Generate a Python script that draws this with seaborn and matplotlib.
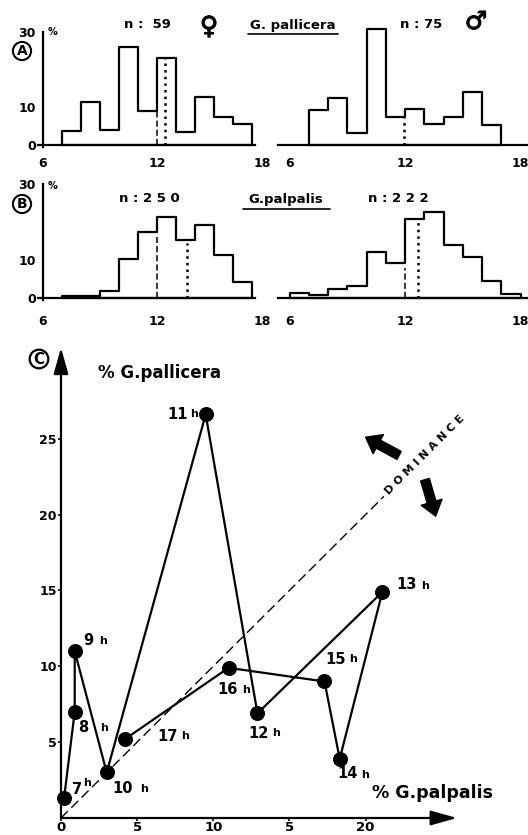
import numpy as np
import pandas as pd
import seaborn as sns
import matplotlib
matplotlib.use("Agg")
import matplotlib.pyplot as plt
import matplotlib.patheffects as pe
from matplotlib.lines import Line2D
from matplotlib.ticker import FixedLocator

sns.set_style("white")
plt.rcParams['font.family'] = ['DejaVu Sans']
plt.rcParams['font.weight'] = 'bold'
for key in ['text.color', 'axes.labelcolor', 'xtick.color', 'ytick.color', 'axes.edgecolor']:
    plt.rcParams[key] = 'black'

W, H = 528, 835

# ---- wing-length frequency distributions (% per class) ----
edges_7_17 = [7, 8, 9, 10, 11, 12, 13, 14, 15, 16, 17]
edges_6_18 = [6, 7, 8, 9, 10, 11, 12, 13, 14, 15, 16, 17, 18]

pallicera_female = [3.8, 11.4, 3.9, 25.9, 9.0, 23.2, 3.4, 12.6, 7.3, 5.5]
pallicera_male = [9.3, 12.5, 3.2, 30.7, 7.5, 9.5, 5.5, 7.5, 14.0, 5.4]
palpalis_female = [0.4, 0.6, 1.9, 10.2, 17.3, 21.2, 15.3, 19.1, 11.2, 4.1]
palpalis_male = [1.3, 0.9, 2.3, 3.1, 12.2, 9.3, 20.8, 22.6, 14.0, 10.8, 4.6, 1.1]

# reference lines: (x, top) for dashed and dotted markers
pallicera_female_dashed = (12.0, 9.0)
pallicera_female_dotted = (12.4, 23.2)
pallicera_male_dotted = (11.95, 7.2)
palpalis_female_dashed = (12.0, 16.0)
palpalis_female_dotted = (13.6, 14.4)
palpalis_male_dashed = (12.0, 8.0)
palpalis_male_dotted = (12.65, 20.8)

# ---- hourly proportions of each species ----
hours = ['7', '8', '9', '10', '11', '12', '13', '14', '15', '16', '17']
palpalis_pct = [0.2, 0.9, 0.9, 3.0, 9.5, 12.9, 21.1, 18.3, 17.3, 11.0, 4.2]
pallicera_pct = [1.3, 7.0, 11.0, 3.0, 26.6, 6.9, 14.9, 3.9, 9.0, 9.9, 5.2]

fig = plt.figure(figsize=(W / 100, H / 100), dpi=100)


def ftext(x, y, s, **kw):
    return fig.text(x / W, 1 - y / H, s, **kw)


def fline(x0, x1, y, lw=1.2):
    fig.add_artist(Line2D([x0 / W, x1 / W], [1 - y / H] * 2, lw=lw, color='k'))


def hist_axes(px6, ux, base, uy, xlim=(5.0, 18.6), ylim=(-2, 32)):
    left = px6 + (xlim[0] - 6) * ux
    right = px6 + (xlim[1] - 6) * ux
    top = base - ylim[1] * uy
    bottom = base - ylim[0] * uy
    ax = fig.add_axes([left / W, 1 - bottom / H, (right - left) / W, (bottom - top) / H])
    ax.set_xlim(*xlim)
    ax.set_ylim(*ylim)
    ax.patch.set_alpha(0)
    return ax


def draw_hist(ax, edges, vals, left_axis, marks, label_pad):
    centers = [(a + b) / 2 for a, b in zip(edges[:-1], edges[1:])]
    sns.histplot(x=centers, weights=vals, bins=edges, element='step', fill=True,
                 color='k', facecolor='none', edgecolor='k', alpha=1, lw=1.6, ax=ax)
    for (xv, top), ls, lw in marks:
        ax.plot([xv, xv], [0, top], color='k', ls=ls, lw=lw)
    for s in ['top', 'right']:
        ax.spines[s].set_visible(False)
    ax.spines['bottom'].set_position(('data', 0))
    ax.spines['bottom'].set_linewidth(1.6)
    ax.set_xlabel('')
    ax.set_ylabel('')
    if left_axis:
        ax.spines['left'].set_position(('data', 6))
        ax.spines['left'].set_bounds(-0.6, 30)
        ax.spines['left'].set_linewidth(1.6)
        ax.spines['bottom'].set_bounds(5.75, 17.15)
        ax.set_yticks([0, 10, 20, 30])
        ax.set_yticklabels(['0', '10', '', '30'], fontsize=9, fontweight='bold')
        ax.tick_params(axis='y', direction='out', length=4, width=1.3, pad=1)
        ax.set_xticks([6, 12])
        ax.xaxis.set_minor_locator(FixedLocator([7, 8, 9, 10, 11, 13, 14, 15, 16, 17]))
        ax.annotate('18', xy=(17.55, 0), xytext=(0, -(4 + label_pad)),
                    textcoords='offset points', ha='center', va='top',
                    fontsize=9, fontweight='bold', annotation_clip=False)
    else:
        ax.spines['left'].set_visible(False)
        ax.set_yticks([])
        ax.spines['bottom'].set_bounds(5.4, 18.35)
        ax.set_xticks([6, 12, 18])
        ax.xaxis.set_minor_locator(FixedLocator([7, 8, 9, 10, 11, 13, 14, 15, 16, 17]))
    ax.set_xticklabels([str(t) for t in ax.get_xticks().astype(int)], fontsize=9, fontweight='bold')
    ax.tick_params(axis='x', which='major', direction='out', length=4, width=1.5, pad=label_pad)
    ax.tick_params(axis='x', which='minor', direction='out', length=2.5, width=1.2)


# ---- panel A : G. pallicera ----
axA1 = hist_axes(43, 19.0, 145, 3.77)
draw_hist(axA1, edges_7_17, pallicera_female, True,
          [(pallicera_female_dashed, (0, (4, 2)), 1.1), (pallicera_female_dotted, ':', 1.8)], 4.5)
axA2 = hist_axes(289.5, 19.25, 145, 3.77)
draw_hist(axA2, edges_7_17, pallicera_male, False,
          [(pallicera_male_dotted, ':', 1.8)], 4.5)

# ---- panel B : G. palpalis ----
axB1 = hist_axes(43, 19.0, 298, 3.8)
draw_hist(axB1, edges_7_17, palpalis_female, True,
          [(palpalis_female_dashed, (0, (4, 2)), 1.1), (palpalis_female_dotted, ':', 1.8)], 8.5)
axB2 = hist_axes(289.5, 19.25, 298, 3.8)
draw_hist(axB2, edges_6_18, palpalis_male, False,
          [(palpalis_male_dashed, (0, (4, 2)), 1.1), (palpalis_male_dotted, ':', 1.8)], 8.5)

# headers and panel letters
circ = dict(boxstyle='circle,pad=0.15', fc='white', ec='k', lw=1.5)
ftext(22, 51, 'A', fontsize=10, ha='center', va='center', bbox=circ)
ftext(22, 204, 'B', fontsize=10, ha='center', va='center', bbox=circ)
ftext(53, 32, '%', fontsize=7, ha='center', va='center')
ftext(53, 186, '%', fontsize=7, ha='center', va='center')

bold_sym = [pe.withStroke(linewidth=0.8, foreground='k')]
ftext(147, 25, 'n :  59', fontsize=9.5, ha='center', va='center')
ftext(209, 27, '\u2640', fontsize=18, ha='center', va='center', path_effects=bold_sym)
ftext(293, 25, 'G. pallicera', fontsize=9.5, ha='center', va='center')
fline(248, 338, 34)
ftext(421, 25, 'n : 75', fontsize=9.5, ha='center', va='center')
ftext(476, 22, '\u2642', fontsize=18, ha='center', va='center', path_effects=bold_sym)

ftext(149, 199, 'n : 2 5 0', fontsize=9.5, ha='center', va='center')
ftext(286, 200, 'G.palpalis', fontsize=9.5, ha='center', va='center')
fline(243, 330, 209)
ftext(398, 199, 'n : 2 2 2', fontsize=9.5, ha='center', va='center')

# ---- panel C : hourly proportions ----
ux, uy = 15.23, 15.17
xlimC, ylimC = (-1.5, 28.0), (-1.2, 32.0)
left = 61 + xlimC[0] * ux
right = 61 + xlimC[1] * ux
top = 818 - ylimC[1] * uy
bottom = 818 - ylimC[0] * uy
axC = fig.add_axes([left / W, 1 - bottom / H, (right - left) / W, (bottom - top) / H])
axC.set_xlim(*xlimC)
axC.set_ylim(*ylimC)
axC.patch.set_alpha(0)

# diagonal of equal proportions
axC.plot([0, 21.2], [0, 21.2], color='k', lw=1.0, ls=(0, (7, 3.5)))
axC.text(21.4, 21.4, 'D O M I N A N C E', rotation=45, rotation_mode='anchor',
         ha='left', va='center', fontsize=8, fontweight='bold')
fat = dict(arrowstyle='simple,head_length=0.8,head_width=1.2,tail_width=0.5',
           color='k', mutation_scale=13, shrinkA=0, shrinkB=0)
axC.annotate('', xy=(20.0, 25.1), xytext=(22.2, 23.9), arrowprops=fat)
axC.annotate('', xy=(24.6, 19.9), xytext=(23.9, 22.3), arrowprops=fat)

df = pd.DataFrame({'hour': hours, 'palpalis': palpalis_pct, 'pallicera': pallicera_pct})
sns.lineplot(data=df, x='palpalis', y='pallicera', sort=False, estimator=None,
             color='k', lw=1.6, marker='o', markersize=10, markeredgecolor='k', ax=axC)

# axis arrows
arr = dict(arrowstyle='-|>,head_length=1.6,head_width=0.45', color='k', lw=1.6,
           shrinkA=0, shrinkB=0, mutation_scale=10)
axC.annotate('', xy=(0, 31.0), xytext=(0, 0), arrowprops=arr)
axC.annotate('', xy=(26.0, 0), xytext=(0, 0), arrowprops=arr)

for s in axC.spines.values():
    s.set_visible(False)
axC.spines['left'].set_position(('data', 0))
axC.spines['bottom'].set_position(('data', 0))
axC.set_yticks([5, 10, 15, 20, 25])
axC.set_yticklabels(['5', '10', '15', '20', '25'], fontsize=9, fontweight='bold')
axC.set_xticks([0, 5, 10, 15, 20])
axC.set_xticklabels(['0', '5', '10', '5', '20'], fontsize=9.5, fontweight='bold')
axC.tick_params(axis='y', direction='out', length=2, width=1.2, pad=1, left=True)
axC.tick_params(axis='x', direction='out', length=2, width=1.2, pad=0.5, bottom=True)
axC.set_xlabel('')
axC.set_ylabel('')

# hour labels: (number offset, 'h' offset) in pixels, y upward
label_offsets = {
    '7': ((13, 9), (23, 15)),
    '8': ((9, -16), (29, -16)),
    '9': ((14, 11), (28, 10)),
    '10': ((16, -16), (37, -17)),
    '11': ((-28, 0), (-12, 0)),
    '12': ((1, -20), (19, -20)),
    '13': ((24, 7), (43, 6)),
    '14': ((8, -15), (25, -16)),
    '15': ((11, 22), (29, 22)),
    '16': ((-1, -22), (18, -22)),
    '17': ((43, 3), (60, 3)),
}
for h, xv, yv in zip(hours, palpalis_pct, pallicera_pct):
    (nx, ny), (hx, hy) = label_offsets[h]
    axC.annotate(h, xy=(xv, yv), xytext=(nx * 0.72, ny * 0.72), textcoords='offset points',
                 ha='center', va='center', fontsize=10.5, fontweight='bold')
    axC.annotate('h', xy=(xv, yv), xytext=(hx * 0.72, hy * 0.72), textcoords='offset points',
                 ha='center', va='center', fontsize=8, fontweight='bold')

ftext(160, 373, '% G.pallicera', fontsize=12, ha='center', va='center')
ftext(433, 793, '% G.palpalis', fontsize=12.5, ha='center', va='center')
ftext(39, 359, 'C', fontsize=11, ha='center', va='center',
      bbox=dict(boxstyle='circle,pad=0.12', fc='white', ec='k', lw=1.6))

fig.savefig('out.png', dpi=100)
